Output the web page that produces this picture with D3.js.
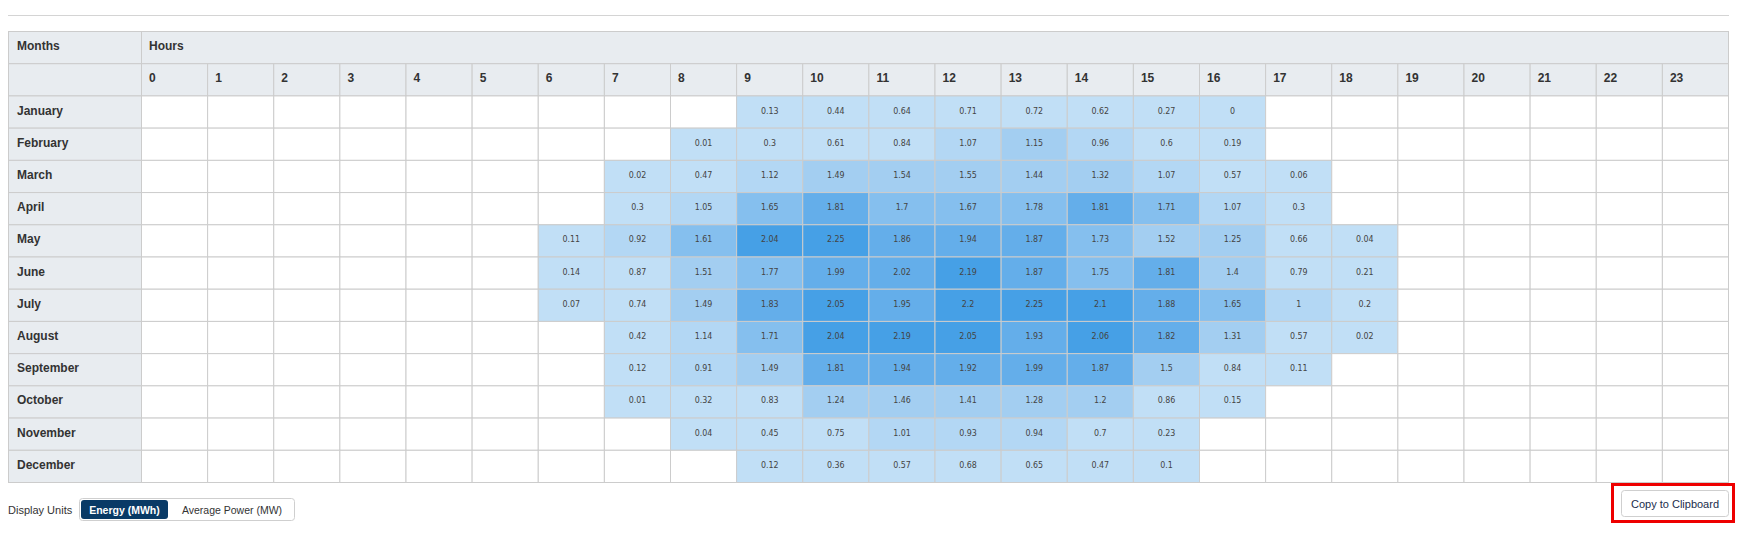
<!DOCTYPE html>
<html>
<head>
<meta charset="utf-8">
<script src="https://cdn.jsdelivr.net/npm/d3@7"></script>
<style>
  body { margin: 0; background: #fff; }
  svg { display: block; }
</style>
</head>
<body>
<svg id="chart" width="1738" height="535"></svg>
<script>
// ---------- DATA ----------
const months = ["January","February","March","April","May","June","July","August","September","October","November","December"];
const hours = ["0","1","2","3","4","5","6","7","8","9","10","11","12","13","14","15","16","17","18","19","20","21","22","23"];
const _ = null;
//                 0  1  2  3  4  5  6     7     8     9     10    11    12    13    14    15    16    17    18    19 20 21 22 23
const january   = [_, _, _, _, _, _, _,    _,    _,    0.13, 0.44, 0.64, 0.71, 0.72, 0.62, 0.27, 0,    _,    _,    _, _, _, _, _];
const february  = [_, _, _, _, _, _, _,    _,    0.01, 0.3,  0.61, 0.84, 1.07, 1.15, 0.96, 0.6,  0.19, _,    _,    _, _, _, _, _];
const march     = [_, _, _, _, _, _, _,    0.02, 0.47, 1.12, 1.49, 1.54, 1.55, 1.44, 1.32, 1.07, 0.57, 0.06, _,    _, _, _, _, _];
const april     = [_, _, _, _, _, _, _,    0.3,  1.05, 1.65, 1.81, 1.7,  1.67, 1.78, 1.81, 1.71, 1.07, 0.3,  _,    _, _, _, _, _];
const may       = [_, _, _, _, _, _, 0.11, 0.92, 1.61, 2.04, 2.25, 1.86, 1.94, 1.87, 1.73, 1.52, 1.25, 0.66, 0.04, _, _, _, _, _];
const june      = [_, _, _, _, _, _, 0.14, 0.87, 1.51, 1.77, 1.99, 2.02, 2.19, 1.87, 1.75, 1.81, 1.4,  0.79, 0.21, _, _, _, _, _];
const july      = [_, _, _, _, _, _, 0.07, 0.74, 1.49, 1.83, 2.05, 1.95, 2.2,  2.25, 2.1,  1.88, 1.65, 1,    0.2,  _, _, _, _, _];
const august    = [_, _, _, _, _, _, _,    0.42, 1.14, 1.71, 2.04, 2.19, 2.05, 1.93, 2.06, 1.82, 1.31, 0.57, 0.02, _, _, _, _, _];
const september = [_, _, _, _, _, _, _,    0.12, 0.91, 1.49, 1.81, 1.94, 1.92, 1.99, 1.87, 1.5,  0.84, 0.11, _,    _, _, _, _, _];
const october   = [_, _, _, _, _, _, _,    0.01, 0.32, 0.83, 1.24, 1.46, 1.41, 1.28, 1.2,  0.86, 0.15, _,    _,    _, _, _, _, _];
const november  = [_, _, _, _, _, _, _,    _,    0.04, 0.45, 0.75, 1.01, 0.93, 0.94, 0.7,  0.23, _,    _,    _,    _, _, _, _, _];
const december  = [_, _, _, _, _, _, _,    _,    _,    0.12, 0.36, 0.57, 0.68, 0.65, 0.47, 0.1,  _,    _,    _,    _, _, _, _, _];
const monthValues = [january, february, march, april, may, june, july, august, september, october, november, december];

const colorThresholds = [0.9, 1.15, 1.6, 1.8, 2.03];
const colorRange = ["#c1dff6", "#b3d7f4", "#a3cef1", "#85bfee", "#64aeea", "#46a0e6"];

const unitOptions = ["Energy (MWh)", "Average Power (MW)"];

// ---------- BUILD ----------
const cells = [];
months.forEach((m, i) => hours.forEach((h, j) => cells.push({ month: m, hour: h, value: monthValues[i][j] })));

const svg = d3.select("#chart");
const tableLeft = 8.5, monthRight = 141.5, tableRight = 1728.5, tableTop = 31.5, tableBottom = 482.5;
const grid = "#cccccc", headBg = "#e8ecf0", txt = "#333333";
const headFont = "'Liberation Sans', Arial, sans-serif";
const dy = -1.5;

const rowKeys = ["__head1", "__head2"].concat(months);
const y = d3.scaleBand().domain(rowKeys).range([tableTop, tableBottom]);
const x = d3.scaleBand().domain(hours).range([monthRight, tableRight]);
const color = d3.scaleThreshold().domain(colorThresholds).range(colorRange);
const cy = k => y(k) + y.bandwidth() / 2 + dy;

// top rule
svg.append("line").attr("x1", 8).attr("x2", 1729).attr("y1", 15.5).attr("y2", 15.5)
  .attr("stroke", "#d4d4d4").attr("stroke-width", 1);

// month column cells (including header cells)
svg.append("g").selectAll("rect").data(rowKeys).join("rect")
  .attr("x", tableLeft).attr("y", d => y(d))
  .attr("width", monthRight - tableLeft).attr("height", y.bandwidth())
  .attr("fill", headBg).attr("stroke", grid);

// "Hours" merged header
svg.append("rect").attr("x", monthRight).attr("y", y("__head1"))
  .attr("width", tableRight - monthRight).attr("height", y.bandwidth())
  .attr("fill", headBg).attr("stroke", grid);

// hour header cells
svg.append("g").selectAll("rect").data(hours).join("rect")
  .attr("x", d => x(d)).attr("y", y("__head2"))
  .attr("width", x.bandwidth()).attr("height", y.bandwidth())
  .attr("fill", headBg).attr("stroke", grid);

// data cells
svg.append("g").selectAll("rect").data(cells).join("rect")
  .attr("x", d => x(d.hour)).attr("y", d => y(d.month))
  .attr("width", x.bandwidth()).attr("height", y.bandwidth())
  .attr("fill", d => d.value === null ? "#ffffff" : color(d.value))
  .attr("stroke", grid);

// header texts
const headText = (sel) => sel.attr("font-family", headFont).attr("font-size", 12)
  .attr("font-weight", "bold").attr("fill", txt).attr("dominant-baseline", "central");

svg.append("text").attr("x", tableLeft + 8.5).attr("y", cy("__head1"))
  .text("Months").call(headText);
svg.append("text").attr("x", monthRight + 7.5).attr("y", cy("__head1"))
  .text("Hours").call(headText);

svg.append("g").selectAll("text").data(hours).join("text")
  .attr("x", d => x(d) + 7.5).attr("y", cy("__head2"))
  .text(d => d).call(headText);

svg.append("g").selectAll("text").data(months).join("text")
  .attr("x", tableLeft + 8.5).attr("y", d => cy(d))
  .text(d => d).call(headText);

// value labels
svg.append("g").selectAll("text").data(cells.filter(d => d.value !== null)).join("text")
  .attr("x", d => x(d.hour) + x.bandwidth() / 2)
  .attr("y", d => cy(d.month))
  .attr("text-anchor", "middle").attr("dominant-baseline", "central")
  .attr("font-family", "'Liberation Sans Narrow', 'DejaVu Sans Condensed', Roboto, sans-serif")
  .attr("font-size", 8.8).attr("fill", "#444")
  .text(d => d.value);

// ---------- Controls ----------
svg.append("text").attr("x", 8).attr("y", 509.5)
  .attr("font-family", headFont).attr("font-size", 11).attr("fill", txt)
  .attr("dominant-baseline", "central").text("Display Units");

const tg = svg.append("g");
tg.append("rect").attr("x", 79.5).attr("y", 498.5).attr("width", 215).attr("height", 22)
  .attr("rx", 3).attr("fill", "#fff").attr("stroke", "#cfcfcf");
tg.append("rect").attr("x", 81).attr("y", 500).attr("width", 87).attr("height", 19)
  .attr("rx", 3).attr("fill", "#093a66");
const btnCenters = [124.5, 232];
tg.selectAll("text.unit").data(unitOptions).join("text").attr("class", "unit")
  .attr("x", (d, i) => btnCenters[i]).attr("y", 509.5)
  .attr("text-anchor", "middle").attr("dominant-baseline", "central")
  .attr("font-family", headFont).attr("font-size", 10.5)
  .attr("font-weight", (d, i) => i === 0 ? "bold" : "normal")
  .attr("fill", (d, i) => i === 0 ? "#ffffff" : txt)
  .text(d => d);

// Copy to Clipboard button with red highlight
svg.append("rect").attr("x", 1612.5).attr("y", 484.5).attr("width", 121).attr("height", 37)
  .attr("fill", "none").attr("stroke", "#ee0000").attr("stroke-width", 3);
svg.append("rect").attr("x", 1621.5).attr("y", 490.5).attr("width", 107).attr("height", 26)
  .attr("rx", 3).attr("fill", "#fff").attr("stroke", "#cfcfcf");
svg.append("text").attr("x", 1675).attr("y", 503.5)
  .attr("text-anchor", "middle").attr("dominant-baseline", "central")
  .attr("font-family", headFont).attr("font-size", 11).attr("fill", "#1b2d4b")
  .text("Copy to Clipboard");
</script>
</body>
</html>
